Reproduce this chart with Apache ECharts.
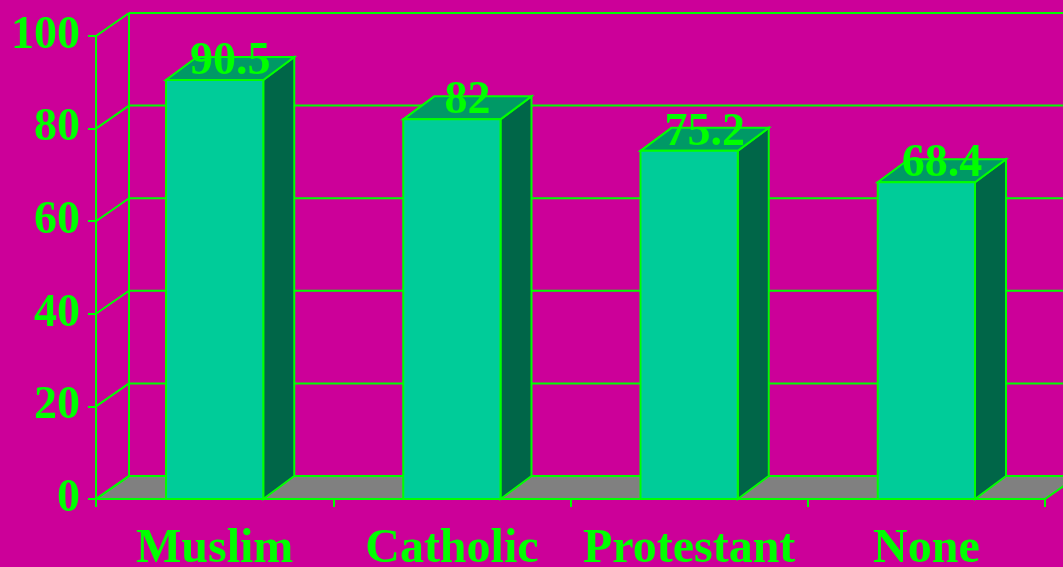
<!DOCTYPE html>
<html>
<head>
<meta charset="utf-8">
<script src="https://cdn.jsdelivr.net/npm/echarts@6/dist/echarts.min.js"></script>
<style>
html,body{margin:0;padding:0;background:#CC0099;}
#chart{width:1063px;height:567px;}
</style>
</head>
<body>
<div id="chart"></div>
<script>
const categories = ['Muslim', 'Catholic', 'Protestant', 'None'];
const values = [90.5, 82, 75.2, 68.4];
const yTicks = [0, 20, 40, 60, 80, 100];

const GREEN = '#00FF00';
const FONT = '"Liberation Serif", "Times New Roman", serif';
const WALL_DX = 33, WALL_DY = -23;
const BAR_DX = 31, BAR_DY = -23;
const BAR_FRAC = 0.41;

const chart = echarts.init(document.getElementById('chart'));

function wallItem(params, api) {
  const v = api.value(1);
  const p = api.coord([0, v]);
  const bw = api.size([1, 0])[0];
  const left = p[0] - bw / 2;
  const right = api.coord([categories.length - 1, 0])[0] + bw / 2;
  const y = p[1];
  const W = api.getWidth();
  const ls = { stroke: GREEN, lineWidth: 2 };
  const children = [];
  if (v === 0) {
    const yTop = api.coord([0, yTicks[yTicks.length - 1]])[1];
    children.push({
      type: 'polygon',
      shape: { points: [[left, y], [right, y], [right + WALL_DX, y + WALL_DY], [left + WALL_DX, y + WALL_DY]] },
      style: { fill: '#808080', stroke: GREEN, lineWidth: 2 }
    });
    children.push({
      type: 'line',
      shape: { x1: left + WALL_DX, y1: y + WALL_DY, x2: left + WALL_DX, y2: yTop + WALL_DY },
      style: ls
    });
  }
  children.push({
    type: 'line',
    shape: { x1: left, y1: y, x2: left + WALL_DX, y2: y + WALL_DY },
    style: ls
  });
  children.push({
    type: 'line',
    shape: { x1: left + WALL_DX, y1: y + WALL_DY, x2: W + 20, y2: y + WALL_DY },
    style: ls
  });
  return { type: 'group', children: children };
}

function barItem(params, api) {
  const idx = api.value(0);
  const v = api.value(1);
  const top = api.coord([idx, v]);
  const base = api.coord([idx, 0]);
  const bw = api.size([1, 0])[0] * BAR_FRAC;
  const x0 = top[0] - bw / 2, x1 = top[0] + bw / 2;
  const yt = top[1], yb = base[1];
  const st = (fill) => ({ fill: fill, stroke: GREEN, lineWidth: 2, lineJoin: 'miter' });
  return {
    type: 'group',
    children: [
      { type: 'polygon', shape: { points: [[x1, yb], [x1 + BAR_DX, yb + BAR_DY], [x1 + BAR_DX, yt + BAR_DY], [x1, yt]] }, style: st('#006648') },
      { type: 'polygon', shape: { points: [[x0, yt], [x1, yt], [x1 + BAR_DX, yt + BAR_DY], [x0 + BAR_DX, yt + BAR_DY]] }, style: st('#009966') },
      { type: 'rect', shape: { x: x0, y: yt, width: bw, height: yb - yt }, style: st('#00CC99') },
      { type: 'text', x: top[0] + BAR_DX / 2, y: yt - 18,
        style: { text: String(v), fill: GREEN, font: 'bold 46px ' + FONT, align: 'center', verticalAlign: 'middle' } }
    ]
  };
}

chart.setOption({
  backgroundColor: '#CC0099',
  animation: false,
  grid: { left: 96, right: 18, top: 36, bottom: 68, containLabel: false, outerBoundsMode: 'none' },
  xAxis: {
    type: 'category',
    data: categories,
    axisLine: { lineStyle: { color: GREEN, width: 2 } },
    axisTick: { show: true, length: 8, lineStyle: { color: GREEN, width: 2 } },
    axisLabel: {
      color: GREEN, fontFamily: FONT, fontWeight: 'bold', fontSize: 48,
      margin: 51, verticalAlign: 'middle', interval: 0
    },
    splitLine: { show: false }
  },
  yAxis: {
    type: 'value', min: 0, max: 100, interval: 20,
    axisLine: { show: true, lineStyle: { color: GREEN, width: 2 } },
    axisTick: { show: true, length: 8, lineStyle: { color: GREEN, width: 2 } },
    axisLabel: { color: GREEN, fontFamily: FONT, fontWeight: 'bold', fontSize: 46, margin: 16 },
    splitLine: { show: false }
  },
  series: [
    {
      type: 'custom', name: 'wall', clip: false, z: 1,
      renderItem: wallItem,
      encode: { x: 0, y: 1 },
      data: yTicks.map(v => [0, v])
    },
    {
      type: 'custom', name: 'bars', clip: false, z: 3,
      renderItem: barItem,
      encode: { x: 0, y: 1 },
      data: values.map((v, i) => [i, v])
    }
  ]
});
</script>
</body>
</html>
